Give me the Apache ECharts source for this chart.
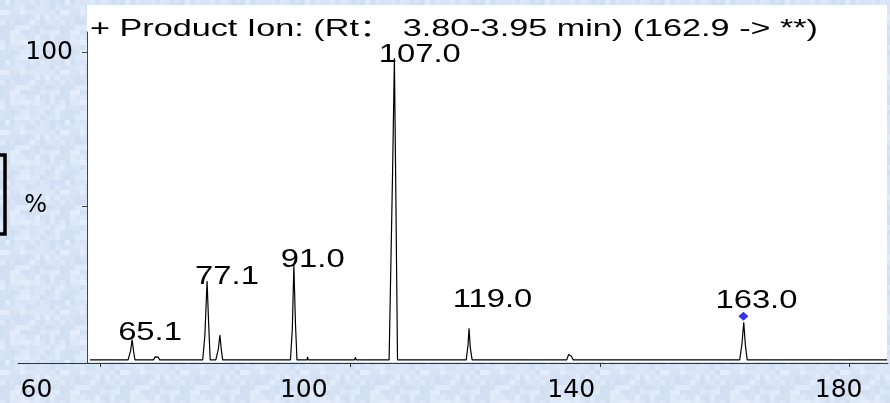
<!DOCTYPE html>
<html>
<head>
<meta charset="utf-8">
<script src="https://cdn.jsdelivr.net/npm/echarts@6/dist/echarts.min.js"></script>
<style>
html, body { margin: 0; padding: 0; }
#chart { width: 890px; height: 403px; }
</style>
</head>
<body>
<div id="chart"></div>
<script>
var titleText = '+ Product Ion: (Rt： 3.80-3.95 min) (162.9 -> **)';
var xTicks = [60, 100, 140, 180];
var yTicks = [50, 100];

// profile, [m/z, %]
var spectrum = [
    [58.35, 0],
    [64.45, 0], [64.85, 3], [65.1, 6.5], [65.35, 2.5], [65.55, 0],
    [68.5, 0], [68.8, 1.0], [69.0, 1.2], [69.3, 0.9], [69.5, 0],
    [76.4, 0], [76.75, 8], [77.1, 25.6], [77.35, 12], [77.6, 0],
    [78.5, 0], [78.9, 3.5], [79.15, 8.1], [79.4, 3], [79.6, 0],
    [90.45, 0], [90.75, 10], [91.0, 30.8], [91.25, 12], [91.5, 0],
    [93.1, 0], [93.2, 1], [93.3, 0],
    [100.7, 0], [100.85, 0.8], [101.0, 0],
    [106.25, 0], [106.8, 60], [107.1, 98], [107.35, 50], [107.6, 0],
    [118.6, 0], [118.9, 5], [119.05, 10.3], [119.25, 4], [119.55, 0],
    [134.7, 0], [135.0, 1.8], [135.2, 2.2], [135.45, 1.2], [135.75, 0],
    [162.4, 0], [162.75, 5], [163.05, 12.2], [163.3, 5], [163.6, 0],
    [186.0, 0]
];

var peakMz = [65.1, 77.1, 91.0, 107.0, 119.0, 163.0];
var peakHeight = [6.5, 25.6, 30.8, 98, 10.3, 12.2];
var precursor = [[163.0, 12.2]];

// label nudges (px) from the apex
var labelDx = [-14, -12, -13, -15, -16, -28];
var labelDy = [6, 9, 8, 10, -15, -9];

function measure(txt, font) {
    var ctx = document.createElement('canvas').getContext('2d');
    ctx.font = font;
    return ctx.measureText(txt).width;
}

function texture() {
    var c = document.createElement('canvas');
    c.width = c.height = 60;
    var g = c.getContext('2d');
    for (var i = 0; i < 12; i++) {
        for (var j = 0; j < 12; j++) {
            var t = Math.abs(Math.sin(i * 12.9898 + j * 78.233) * 43758.5453) % 1;
            g.fillStyle = 'rgb(' + Math.round(209 + t * 18) + ',' + Math.round(223 + t * 14) + ',' + Math.round(242 + t * 9) + ')';
            g.fillRect(i * 5, j * 5, 5, 5);
        }
    }
    return c.toDataURL();
}
document.getElementById('chart').style.background = 'url(' + texture() + ')';

var titleFont = '24px "Liberation Sans", "Noto Sans CJK SC"';
var labelFont = '26px "Liberation Sans"';
var titleScale = 728 / measure(titleText, titleFont);
var labelScale = 82 / measure('107.0', labelFont);

var peaks = peakMz.map(function (m, i) { return [m, peakHeight[i]]; });

var option = {
    backgroundColor: 'transparent',
    animation: false,
    grid: { left: 18, right: 2, top: 32, bottom: 40 },
    xAxis: [
        {
            type: 'value',
            min: 46.82,
            max: 186.15,
            axisLine: { onZero: false, lineStyle: { color: '#333', width: 1 } },
            axisTick: { customValues: xTicks, length: 4, lineStyle: { color: '#333' } },
            axisLabel: { show: false },
            splitLine: { show: false }
        },
        {
            // label axis, the printed numbers sit left of their ticks
            type: 'value',
            position: 'bottom',
            min: 57.25,
            max: 187.39,
            axisLine: { show: false, onZero: false },
            axisTick: { show: false },
            axisLabel: {
                customValues: xTicks,
                fontFamily: 'DejaVu Sans',
                fontSize: 25,
                color: '#000',
                margin: 15
            },
            splitLine: { show: false }
        }
    ],
    yAxis: {
        type: 'value',
        min: -1,
        max: 106.5,
        offset: -69,
        axisLine: { show: true, onZero: false, lineStyle: { color: '#444', width: 1 } },
        axisTick: { customValues: yTicks, length: 5, lineStyle: { color: '#444' } },
        axisLabel: {
            customValues: yTicks,
            fontFamily: 'DejaVu Sans',
            fontSize: 25,
            color: '#000',
            margin: 14,
            formatter: function (v) { return v === 50 ? '{p|%}' : String(v); },
            rich: { p: { fontFamily: 'DejaVu Sans', fontSize: 24, color: '#000', padding: [0, 26, 0, 0] } }
        },
        splitLine: { show: false }
    },
    graphic: [
        { type: 'rect', z: -1, shape: { x: 87, y: 5, width: 800, height: 357 }, style: { fill: '#fff' } },
        { type: 'rect', z: 5, shape: { x: -10, y: 155, width: 15, height: 79 }, style: { fill: 'none', stroke: '#000', lineWidth: 3.5 } },
        {
            type: 'text', z: 10, x: 90, y: 41, scaleX: titleScale,
            style: { text: titleText, font: titleFont, fill: '#000', align: 'left', verticalAlign: 'bottom' }
        }
    ],
    series: [
        {
            type: 'line',
            data: spectrum,
            showSymbol: false,
            lineStyle: { color: '#000', width: 1.2 },
            z: 3
        },
        {
            type: 'scatter',
            data: precursor,
            symbol: 'diamond',
            symbolSize: [10, 9],
            symbolOffset: [0, -6],
            itemStyle: { color: '#0000ee' },
            z: 4
        },
        {
            type: 'custom',
            data: peaks,
            z: 6,
            renderItem: function (params, api) {
                var i = params.dataIndex;
                var p = api.coord([api.value(0), api.value(1)]);
                return {
                    type: 'text',
                    x: p[0] + labelDx[i],
                    y: p[1] + labelDy[i],
                    scaleX: labelScale,
                    style: {
                        text: peakMz[i].toFixed(1),
                        font: labelFont,
                        fill: '#000',
                        align: 'left',
                        verticalAlign: 'bottom'
                    }
                };
            }
        }
    ]
};

var chart = echarts.init(document.getElementById('chart'));
chart.setOption(option);
</script>
</body>
</html>
